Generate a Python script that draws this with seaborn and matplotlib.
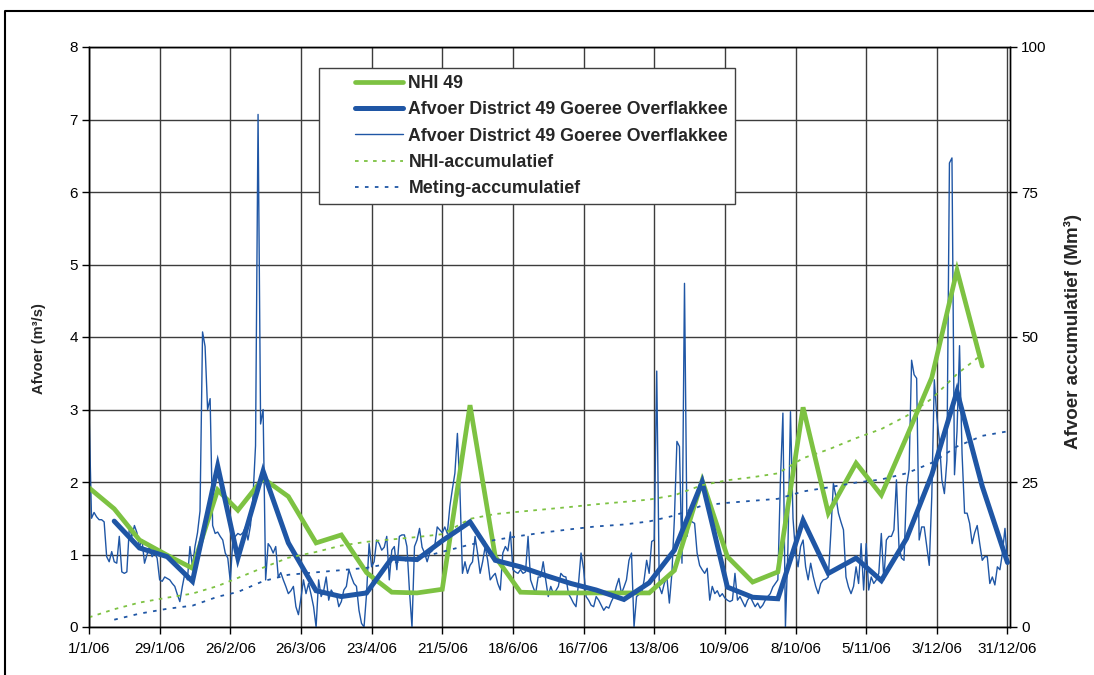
import datetime as dt

import matplotlib
matplotlib.use("Agg")
import matplotlib.pyplot as plt
import pandas as pd
import seaborn as sns
from matplotlib.legend_handler import HandlerLine2D
from matplotlib.lines import Line2D

# ---------------------------------------------------------------------------
# Data (2006, Goeree Overflakkee, district 49)
# ---------------------------------------------------------------------------
dekad_dates = [
    "2006-01-01", "2006-01-11", "2006-01-21", "2006-02-01", "2006-02-11", "2006-02-21",
    "2006-03-01", "2006-03-11", "2006-03-21", "2006-04-01", "2006-04-11", "2006-04-21",
    "2006-05-01", "2006-05-11", "2006-05-21", "2006-06-01", "2006-06-11", "2006-06-21",
    "2006-07-01", "2006-07-11", "2006-07-21", "2006-08-01", "2006-08-11", "2006-08-21",
    "2006-09-01", "2006-09-11", "2006-09-21", "2006-10-01", "2006-10-11", "2006-10-21",
    "2006-11-01", "2006-11-11", "2006-11-21", "2006-12-01", "2006-12-11", "2006-12-21",
]

# NHI model discharge per dekad (m3/s)
nhi_49 = [
    1.92, 1.63, 1.20, 0.99, 0.81, 1.89, 1.61, 2.05, 1.80, 1.16, 1.27, 0.75,
    0.48, 0.47, 0.52, 3.06, 0.97, 0.48, 0.47, 0.47, 0.47, 0.47, 0.47, 0.78,
    2.02, 0.97, 0.62, 0.76, 3.03, 1.57, 2.26, 1.82, 2.62, 3.44, 4.92, 3.60,
]

# NHI accumulated volume (Mm3)
nhi_acc = [
    1.66, 3.07, 4.21, 5.06, 5.76, 7.07, 8.46, 10.23, 11.94, 12.94, 14.04, 14.69,
    15.10, 15.51, 16.00, 18.65, 19.48, 19.90, 20.30, 20.71, 21.16, 21.57, 21.97, 22.71,
    24.46, 25.30, 25.83, 26.49, 29.11, 30.60, 32.56, 34.13, 36.39, 39.36, 43.61, 47.04,
]

# measured discharge per dekad (m3/s)
meting_dates = dekad_dates[1:] + ["2006-12-31"]
meting_dekad = [
    1.46, 1.09, 0.97, 0.63, 2.22, 0.95, 2.15, 1.16, 0.50, 0.42, 0.47, 0.95,
    0.93, 1.19, 1.45, 0.92, 0.83, 0.71, 0.60, 0.51, 0.38, 0.61, 1.06, 2.00,
    0.55, 0.41, 0.39, 1.47, 0.74, 0.95, 0.64, 1.22, 2.10, 3.25, 1.94, 0.89,
]

# measured accumulated volume (Mm3)
meting_acc = [
    1.26, 2.30, 3.14, 3.68, 5.22, 6.04, 7.90, 9.00, 9.43, 9.80, 10.20, 11.02,
    11.83, 12.96, 14.21, 15.01, 15.72, 16.34, 16.86, 17.34, 17.67, 18.20, 19.21, 20.94,
    21.41, 21.76, 22.10, 23.37, 24.07, 24.89, 25.44, 26.50, 28.31, 31.12, 32.96, 33.73,
]

# measured daily discharge (m3/s), one list per month
daily_jan = [3.00, 1.50, 1.58, 1.52, 1.48, 1.48, 1.45, 0.97, 0.90, 1.04, 0.90, 0.88, 1.25, 0.76, 0.74, 0.76,
             1.38, 1.25, 1.40, 1.30, 1.11, 1.20, 0.88, 1.00, 1.11, 0.97, 1.02, 0.95, 0.65, 0.63, 0.69]
daily_feb = [0.67, 0.65, 0.60, 0.56, 0.45, 0.35, 0.56, 0.74, 0.65, 1.11, 0.83, 1.11, 1.30, 1.60,
             4.07, 3.87, 3.00, 3.15, 1.40, 1.29, 1.31, 1.25, 1.20, 1.02, 0.95, 0.63, 1.20, 1.25]
daily_mar = [1.29, 1.27, 1.30, 1.38, 1.20, 1.40, 1.80, 2.50, 7.07, 2.80, 3.00, 0.65, 1.15, 1.10, 1.02, 1.11,
             0.69, 0.75, 0.65, 0.56, 0.46, 0.50, 0.56, 0.28, 0.17, 0.40, 0.65, 0.46, 0.60, 0.45, 0.28]
daily_apr = [0.00, 0.65, 0.42, 0.50, 0.69, 0.37, 0.51, 0.45, 0.46, 0.28, 0.35, 0.51, 0.56, 0.79, 0.69,
             0.60, 0.56, 0.23, 0.05, 0.00, 0.46, 1.15, 0.83, 0.90, 1.20, 1.15, 1.06, 1.10, 1.25, 0.65]
daily_may = [1.06, 1.11, 0.79, 1.25, 1.27, 1.27, 1.11, 0.50, 0.00, 1.11, 1.20, 1.36, 1.10, 1.02, 0.90, 1.02,
             1.05, 1.11, 1.38, 1.34, 1.30, 1.38, 1.29, 1.66, 1.90, 2.12, 2.67, 1.89, 0.74, 0.90, 0.74]
daily_jun = [0.85, 0.90, 1.25, 1.02, 0.74, 0.90, 1.11, 0.92, 0.65, 0.70, 0.74, 0.60, 0.51, 1.02, 1.11,
             1.05, 1.31, 0.79, 0.76, 0.74, 0.79, 0.74, 0.76, 1.25, 0.65, 0.55, 0.46, 0.69, 0.69, 0.90]
daily_jul = [0.65, 0.42, 0.56, 0.46, 0.50, 0.56, 0.74, 0.70, 0.69, 0.46, 0.40, 0.33, 0.28, 0.60, 1.02, 0.80,
             0.42, 0.37, 0.30, 0.28, 0.42, 0.37, 0.30, 0.23, 0.28, 0.26, 0.35, 0.42, 0.56, 0.67, 0.46]
daily_aug = [0.55, 0.65, 0.92, 1.02, 0.00, 0.42, 0.45, 0.46, 0.65, 0.92, 0.74, 1.18, 1.20, 3.53, 0.56, 0.46,
             0.60, 0.69, 0.33, 0.74, 1.50, 2.56, 2.49, 0.88, 4.74, 1.25, 1.48, 1.45, 1.43, 1.02, 0.85]
daily_sep = [0.79, 0.74, 0.81, 0.37, 0.56, 0.46, 0.50, 0.42, 0.46, 0.40, 0.37, 0.35, 0.37, 0.74, 0.37,
             0.42, 0.35, 0.28, 0.37, 0.42, 0.35, 0.28, 0.33, 0.26, 0.30, 0.37, 0.42, 0.46, 0.55, 0.60]
daily_oct = [0.65, 2.00, 2.95, 0.00, 1.10, 2.97, 1.50, 1.02, 0.83, 1.11, 1.20, 0.83, 0.65, 0.88, 0.70, 0.56,
             0.46, 0.60, 0.65, 0.66, 0.69, 1.30, 1.98, 1.80, 1.57, 1.45, 1.34, 0.69, 0.55, 0.46, 0.56]
daily_nov = [0.83, 0.60, 1.15, 0.51, 1.15, 0.51, 0.69, 0.60, 0.65, 0.74, 1.29, 0.65, 1.20, 1.25, 1.25,
             1.34, 2.03, 1.11, 0.95, 0.92, 1.94, 2.17, 3.68, 3.48, 3.43, 1.20, 1.38, 1.38, 1.11, 0.85]
daily_dec = [1.80, 3.41, 2.90, 2.58, 2.03, 1.84, 2.30, 6.40, 6.47, 2.10, 2.70, 3.88, 2.39, 1.57, 1.57, 1.43,
             1.15, 1.30, 1.40, 1.15, 0.92, 0.97, 0.97, 0.60, 0.69, 0.58, 0.83, 0.79, 1.02, 1.36, 0.89]

x_tick_labels = ["1/1/06", "29/1/06", "26/2/06", "26/3/06", "23/4/06", "21/5/06", "18/6/06",
                 "16/7/06", "13/8/06", "10/9/06", "8/10/06", "5/11/06", "3/12/06", "31/12/06"]
y_left_ticks = [0, 1, 2, 3, 4, 5, 6, 7, 8]
y_right_ticks = [0, 25, 50, 75, 100]

labels = [
    "NHI 49",
    "Afvoer District 49 Goeree Overflakkee",
    "Afvoer District 49 Goeree Overflakkee",
    "NHI-accumulatief",
    "Meting-accumulatief",
]

# ---------------------------------------------------------------------------
# Style
# ---------------------------------------------------------------------------
GREEN = "#7dc242"
BLUE = "#1f56a5"
GRID = "#3c3c3c"

sns.set_style("ticks")
plt.rcParams["font.family"] = ["Liberation Sans", "DejaVu Sans"]
plt.rcParams["axes.edgecolor"] = "black"
plt.rcParams["axes.linewidth"] = 1.0
plt.rcParams["xtick.color"] = "black"
plt.rcParams["ytick.color"] = "black"


class ShiftedLineHandler(HandlerLine2D):
    """Legend handler that draws the sample line in the right part of the handle box."""

    def __init__(self, frac=0.62, **kw):
        super().__init__(**kw)
        self.frac = frac

    def create_artists(self, legend, orig_handle, xdescent, ydescent, width, height, fontsize, trans):
        shift = width * (1 - self.frac)
        return super().create_artists(legend, orig_handle, xdescent - shift, ydescent,
                                      width * self.frac, height, fontsize, trans)


daily_values = (daily_jan + daily_feb + daily_mar + daily_apr + daily_may + daily_jun +
                daily_jul + daily_aug + daily_sep + daily_oct + daily_nov + daily_dec)
daily_dates = pd.date_range("2006-01-01", periods=len(daily_values), freq="D")

df_daily = pd.DataFrame({"datum": daily_dates, "afvoer": daily_values})
df_nhi = pd.DataFrame({"datum": pd.to_datetime(dekad_dates), "afvoer": nhi_49, "acc": nhi_acc})
df_met = pd.DataFrame({"datum": pd.to_datetime(meting_dates), "afvoer": meting_dekad, "acc": meting_acc})

W, H = 1094, 675
fig = plt.figure(figsize=(W / 100, H / 100), dpi=100, facecolor="white")
ax = fig.add_axes([89 / W, 1 - 627 / H, 921 / W, 580 / H])
ax2 = ax.twinx()

sns.lineplot(data=df_nhi, x="datum", y="afvoer", ax=ax, color=GREEN, lw=3.4,
             solid_joinstyle="miter", zorder=4, legend=False)
h_nhi = ax.lines[-1]
sns.lineplot(data=df_daily, x="datum", y="afvoer", ax=ax, color=BLUE, lw=1.0, zorder=3, legend=False)
h_daily = ax.lines[-1]
sns.lineplot(data=df_met, x="datum", y="afvoer", ax=ax, color=BLUE, lw=3.6,
             solid_joinstyle="miter", zorder=5, legend=False)
h_met = ax.lines[-1]
sns.lineplot(data=df_nhi, x="datum", y="acc", ax=ax2, color=GREEN, lw=1.3,
             linestyle=(0, (2, 3)), legend=False)
h_nhi_acc = ax2.lines[-1]
sns.lineplot(data=df_met, x="datum", y="acc", ax=ax2, color=BLUE, lw=1.3,
             linestyle=(0, (2, 3.5)), legend=False)
h_met_acc = ax2.lines[-1]
handles = [h_nhi, h_met, h_daily, h_nhi_acc, h_met_acc]

# axes ranges and ticks
tick_dates = [dt.datetime.strptime(s, "%d/%m/%y") for s in x_tick_labels]
ax.set_xlim(dt.datetime(2006, 1, 1), dt.datetime(2007, 1, 1))
ax.set_xticks(tick_dates)
ax.set_xticklabels(x_tick_labels)
ax.set_ylim(0, 8)
ax.set_yticks(y_left_ticks)
ax2.set_ylim(0, 100)
ax2.set_yticks(y_right_ticks)

ax.grid(True, color=GRID, lw=1.0)
ax.set_xlabel("")
ax.set_ylabel("Afvoer (m³/s)", fontsize=10.5, fontweight="bold")
ax.yaxis.set_label_coords(-0.047, 0.48)
ax2.set_ylabel("Afvoer accumulatief (Mm³)", fontsize=13.5, fontweight="bold")
ax2.yaxis.set_label_coords(1.059, 0.51)

for a in (ax, ax2):
    a.tick_params(axis="both", labelsize=11, length=5, width=1.0, direction="out", pad=3)
    for sp in a.spines.values():
        sp.set_visible(True)
        sp.set_color("black")
        sp.set_linewidth(1.0)
ax.tick_params(axis="x", pad=6)

leg = ax2.legend(handles, labels, loc="upper left", bbox_to_anchor=(0.2497, 0.9638),
                 borderaxespad=0, frameon=True, fancybox=False, framealpha=1,
                 edgecolor="#404040", prop={"weight": "bold", "size": 12.8},
                 handlelength=4.3, handletextpad=0.33, labelspacing=0.52, borderpad=0.4,
                 handler_map={h: ShiftedLineHandler() for h in handles})
leg.get_frame().set_linewidth(1.0)
leg.set_zorder(10)

# outer frame of the figure
fig.add_artist(Line2D([4.5 / W, 4.5 / W, 1.0], [0.0, 1 - 10.5 / H, 1 - 10.5 / H],
                      transform=fig.transFigure, color="black", lw=1.5))

fig.savefig("out.png", dpi=100, facecolor="white")
